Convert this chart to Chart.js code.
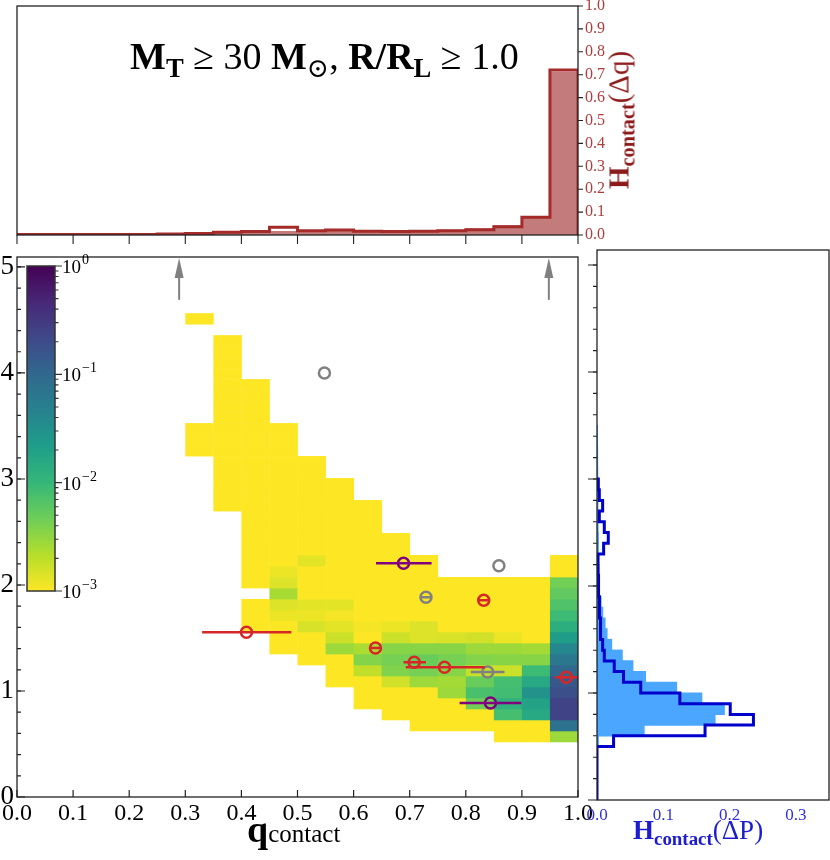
<!DOCTYPE html>
<html>
<head>
<meta charset="utf-8">
<script src="https://cdn.jsdelivr.net/npm/chart.js@4.4.1/dist/chart.umd.min.js"></script>
<style>
  body { margin: 0; background: #fff; width: 830px; height: 860px; position: relative; overflow: hidden;
         font-family: "Liberation Serif", "DejaVu Serif", serif; }
  canvas { position: absolute; left: 0; top: 0; }
  .lbl { position: absolute; white-space: nowrap; line-height: 1; }
  .lbl sub { font-size: 0.7em; vertical-align: -0.3em; line-height: 0; }
</style>
</head>
<body>
<canvas id="mainChart" width="830" height="860"></canvas>
<canvas id="cbarChart" width="830" height="860"></canvas>
<canvas id="topChart" width="830" height="860"></canvas>
<canvas id="rightChart" width="830" height="860"></canvas>

<div class="lbl" id="title" style="left:130px;top:37px;font-size:38px;">
  <b>M<sub>T</sub></b> &ge; 30 <b>M</b><sub>&#8857;</sub>, <b>R/R<sub>L</sub></b> &ge; 1.0
</div>
<div class="lbl" id="xlabel" style="left:247px;top:810px;font-size:38px;">
  <b>q</b><span style="font-size:25px;">contact</span>
</div>
<div class="lbl" id="rlabel" style="left:633px;top:817px;font-size:27px;color:#1c1cd0;">
  <b>H<sub>contact</sub></b>(&Delta;P)
</div>
<div class="lbl" id="tlabel" style="left:619px;top:120px;font-size:29px;color:#8b1a1a;transform:translate(-50%,-50%) rotate(-90deg);">
  <b>H<sub>contact</sub></b>(&Delta;q)
</div>

<script>
// ---------------- data ----------------
// tick values
const qTicks = [0, 0.1, 0.2, 0.3, 0.4, 0.5, 0.6, 0.7, 0.8, 0.9, 1.0];
const pTicks = [0, 1, 2, 3, 4, 5];
const hqTicks = [0, 0.1, 0.2, 0.3, 0.4, 0.5, 0.6, 0.7, 0.8, 0.9, 1.0];
const hpTicks = [0, 0.1, 0.2, 0.3];
const cbarTicks = [0.001, 0.01, 0.1, 1];

// top histogram, bins of 0.05 in q
const qBinWidth = 0.05;
const qHistFill = [0.001, 0.001, 0.001, 0.001, 0.001, 0.004, 0.007, 0.012, 0.015, 0.015,
                   0.019, 0.02, 0.016, 0.015, 0.016, 0.02, 0.026, 0.04, 0.077, 0.71];
const qHistLine = [0.002, 0.002, 0.002, 0.002, 0.002, 0.004, 0.007, 0.012, 0.015, 0.034,
                   0.019, 0.022, 0.016, 0.015, 0.016, 0.019, 0.023, 0.036, 0.077, 0.72];

// right histogram, bins of 0.1 in P starting at 0.5
const pBinStart = 0.5;
const pBinWidth = 0.1;
const pHistFill = [0.002, 0.071, 0.178, 0.192, 0.158, 0.12, 0.073, 0.054, 0.038, 0.022,
                   0.015, 0.012, 0.0085, 0.006, 0.0035, 0.003, 0.003, 0.0025, 0.002, 0.002,
                   0.0015, 0.0015, 0.0012, 0.001, 0.001, 0.001, 0.0008, 0.0008, 0.0006, 0.0005];
const pHistLine = [0.025, 0.163, 0.236, 0.201, 0.125, 0.066, 0.04, 0.026, 0.011, 0.0085,
                   0.006, 0.005, 0.004, 0.0035, 0.003, 0.002, 0.0015, 0.0015, 0.01, 0.017,
                   0.011, 0.0035, 0.0085, 0.0035, 0.002];

// 2D histogram: q bins of 0.05, P bins start 0.52 with width 0.1037
const heatDQ = 0.05;
const heatP0 = 0.52;
const heatDP = 0.1037;
const heatQBin = [6, 7, 8, 9, 10, 11, 12, 13, 14, 15, 16, 17, 18, 19];
const heatPFirst = [26, 21, 10, 8, 7, 5, 3, 2, 1, 1, 1, 0, 0, 0];
const heatValues = [
  [0.001, 0.001, 0.001, null, null, null, null, null, null, null, null, null, 0.001],
  [0.001, 0.001, 0.001, 0.001, 0.001, 0.001, 0.001, 0.001, 0.001, 0.001, 0.001, 0.001, 0.001, 0.001, 0.001, 0.001],
  [0.001, 0.001, 0.001, null, 0.001, 0.001, 0.001, 0.001, 0.001, 0.001, 0.001, 0.001, 0.001, 0.001, 0.001, 0.001,
   0.001, 0.001, 0.001, 0.001, 0.001, 0.001, 0.001],
  [0.001, 0.001, 0.001, 0.0012, 0.0014, 0.0025, 0.0014, 0.0012, 0.001, 0.001, 0.001, 0.001, 0.001, 0.001, 0.001,
   0.001, 0.001, 0.001, 0.001, 0.001, 0.001],
  [0.001, 0.001, 0.001, 0.0015, 0.0012, 0.0013, 0.001, 0.001, 0.001, 0.0013, 0.001, 0.001, 0.001, 0.001, 0.001,
   0.001, 0.001, 0.001, 0.001],
  [0.001, 0.001, 0.001, 0.0028, 0.0017, 0.0013, 0.0011, 0.0013, 0.001, 0.001, 0.001, 0.001, 0.001, 0.001, 0.001,
   0.001, 0.001, 0.001, 0.001],
  [0.001, 0.001, 0.001, 0.0019, 0.0037, 0.0024, 0.001, 0.0011, 0.001, 0.001, 0.001, 0.001, 0.001, 0.001, 0.001,
   0.001, 0.001, 0.001, 0.001],
  [0.001, 0.001, 0.001, 0.0016, 0.0038, 0.0043, 0.0035, 0.0017, 0.0012, 0.001, 0.001, 0.001, 0.001, 0.001, 0.001,
   0.001, 0.001],
  [0.001, 0.001, 0.001, 0.001, 0.0028, 0.0043, 0.005, 0.0035, 0.0014, 0.0014, 0.001, 0.001, 0.001, 0.001, 0.001, 0.001],
  [0.001, 0.001, 0.001, 0.0028, 0.0026, 0.0035, 0.0043, 0.0035, 0.0015, 0.001, 0.001, 0.001, 0.001, 0.001],
  [0.001, 0.001, 0.0045, 0.0075, 0.005, 0.0018, 0.0037, 0.0028, 0.0016, 0.001, 0.001, 0.001, 0.001, 0.001],
  [0.001, 0.001, 0.008, 0.012, 0.0085, 0.008, 0.0017, 0.0035, 0.0028, 0.0012, 0.001, 0.001, 0.001, 0.001, 0.001],
  [0.001, 0.001, 0.016, 0.019, 0.03, 0.016, 0.009, 0.0035, 0.0026, 0.001, 0.001, 0.001, 0.001, 0.001, 0.001],
  [0.0028, 0.075, 0.25, 0.25, 0.18, 0.15, 0.1, 0.065, 0.04, 0.022, 0.013, 0.009, 0.007, 0.0055, 0.0045, 0.001, 0.001]
];

// observed systems (q, P, q error range)
const redQ = [0.409, 0.639, 0.708, 0.762, 0.832, 0.979];
const redP = [1.554, 1.406, 1.271, 1.224, 1.856, 1.129];
const redQLo = [0.33, 0.629, 0.689, 0.693, 0.822, 0.959];
const redQHi = [0.489, 0.649, 0.729, 0.834, 0.842, 1.0];
const purpleQ = [0.689, 0.844];
const purpleP = [2.205, 0.887];
const purpleQLo = [0.64, 0.789];
const purpleQHi = [0.739, 0.899];
const grayQ = [0.548, 0.859, 0.729, 0.839];
const grayP = [4.0, 2.182, 1.884, 1.179];
const grayQLo = [null, null, 0.719, 0.809];
const grayQHi = [null, null, 0.739, 0.869];

// arrows marking q values
const arrowQ = [0.289, 0.948];
const arrowTailP = 4.69;

// ---------------- styles ----------------
const SERIF = '"Liberation Serif", "DejaVu Serif", serif';
const VIRIDIS = ['#440154', '#482878', '#3e4989', '#31688e', '#26828e',
                 '#1f9e89', '#35b779', '#6ece58', '#b5de2b', '#fde725'];
const RED = '#d62728', PURPLE = '#800080', GRAY = '#808080';
const TOP_FILL = '#c47b7b', TOP_LINE = '#a52a2a', TOP_TICK = '#b23c3c';
const RIGHT_FILL = '#4ba6ff', RIGHT_LINE = '#0000cd', RIGHT_TICK = '#3030e0';
const FRAME = '#222';

function hexRgb(h) {
  return [parseInt(h.slice(1, 3), 16), parseInt(h.slice(3, 5), 16), parseInt(h.slice(5, 7), 16)];
}
const VIR_RGB = VIRIDIS.map(hexRgb);

// reversed viridis on a log scale from 1e-3 (yellow) to 1 (purple)
function heatColor(v) {
  let t = (Math.log10(v) + 3) / 3;
  t = Math.min(1, Math.max(0, t));
  const s = (1 - t) * (VIR_RGB.length - 1);
  const i = Math.min(Math.floor(s), VIR_RGB.length - 2);
  const f = s - i;
  const a = VIR_RGB[i], b = VIR_RGB[i + 1];
  const c = a.map((x, n) => Math.round(x + (b[n] - x) * f));
  return `rgb(${c[0]},${c[1]},${c[2]})`;
}

function setTicks(values) {
  return s => { s.ticks = values.map(v => ({ value: v })); };
}
function fixBox(w, h) {
  return s => {
    if (w != null) s.width = w;
    if (h != null) s.height = h;
    s.paddingTop = s.paddingBottom = s.paddingLeft = s.paddingRight = 0;
  };
}

function tickMarks(ctx, scale, values, len, inward) {
  const a = scale.chart.chartArea;
  ctx.beginPath();
  values.forEach(v => {
    const p = scale.getPixelForValue(v);
    if (scale.isHorizontal()) {
      const y0 = scale.position === 'bottom' ? a.bottom : a.top;
      const d = (scale.position === 'bottom') === inward ? -len : len;
      ctx.moveTo(p, y0); ctx.lineTo(p, y0 + d);
    } else {
      const x0 = scale.position === 'left' ? a.left : a.right;
      const d = (scale.position === 'left') === inward ? len : -len;
      ctx.moveTo(x0, p); ctx.lineTo(x0 + d, p);
    }
  });
  ctx.stroke();
}

function minorSteps(from, to, step) {
  const out = [];
  for (let v = from; v <= to + 1e-9; v += step) out.push(+v.toFixed(4));
  return out;
}

const framePlugin = {
  id: 'frame',
  afterDraw(chart) {
    const { ctx, chartArea: a } = chart;
    ctx.save();
    ctx.strokeStyle = FRAME;
    ctx.lineWidth = 1.3;
    ctx.strokeRect(a.left, a.top, a.right - a.left, a.bottom - a.top);
    ctx.restore();
  }
};

// ---------------- main panel ----------------
const heatmapPlugin = {
  id: 'heatmap',
  beforeDatasetsDraw(chart) {
    const { ctx, chartArea: a, scales: { x, y } } = chart;
    ctx.save();
    ctx.beginPath();
    ctx.rect(a.left, a.top, a.right - a.left, a.bottom - a.top);
    ctx.clip();
    heatValues.forEach((col, c) => {
      const q0 = heatQBin[c] * heatDQ;
      const xl = x.getPixelForValue(q0);
      const xr = x.getPixelForValue(q0 + heatDQ);
      col.forEach((v, n) => {
        if (v == null) return;
        const k = heatPFirst[c] + n;
        const yb = y.getPixelForValue(heatP0 + k * heatDP);
        const yt = y.getPixelForValue(heatP0 + (k + 1) * heatDP);
        ctx.fillStyle = heatColor(v);
        ctx.fillRect(xl, yt, xr - xl + 0.4, yb - yt + 0.4);
      });
    });
    ctx.restore();
  }
};

const mainDecor = {
  id: 'mainDecor',
  afterDraw(chart) {
    const { ctx, scales: { x, y } } = chart;
    ctx.save();
    ctx.strokeStyle = FRAME;
    ctx.lineWidth = 1.2;
    tickMarks(ctx, x, qTicks, 7, true);
    tickMarks(ctx, y, pTicks, 8, true);
    tickMarks(ctx, y, minorSteps(0.2, 5.0, 0.2), 4, true);
    // arrows
    ctx.strokeStyle = GRAY;
    ctx.fillStyle = GRAY;
    ctx.lineWidth = 2;
    arrowQ.forEach(q => {
      const px = x.getPixelForValue(q);
      const yTail = y.getPixelForValue(arrowTailP);
      const yTip = y.getPixelForValue(y.max);
      ctx.beginPath();
      ctx.moveTo(px, yTail);
      ctx.lineTo(px, yTip + 18);
      ctx.stroke();
      ctx.beginPath();
      ctx.moveTo(px, yTip + 1);
      ctx.lineTo(px - 4.5, yTip + 21);
      ctx.lineTo(px + 4.5, yTip + 21);
      ctx.closePath();
      ctx.fill();
    });
    ctx.restore();
  }
};

const groups = [
  { q: redQ, p: redP, lo: redQLo, hi: redQHi, color: RED },
  { q: purpleQ, p: purpleP, lo: purpleQLo, hi: purpleQHi, color: PURPLE },
  { q: grayQ, p: grayP, lo: grayQLo, hi: grayQHi, color: GRAY }
];
const errSets = [];
const dotSets = [];
groups.forEach(g => {
  g.q.forEach((q, i) => {
    if (g.lo[i] == null) return;
    errSets.push({
      type: 'line',
      data: [{ x: g.lo[i], y: g.p[i] }, { x: g.hi[i], y: g.p[i] }],
      borderColor: g.color, borderWidth: 2.5, pointRadius: 0, showLine: true, fill: false
    });
  });
  dotSets.push({
    data: g.q.map((q, i) => ({ x: q, y: g.p[i] })),
    pointStyle: 'circle', pointRadius: 5.5, pointHoverRadius: 5.5, borderWidth: 2.5,
    borderColor: g.color, backgroundColor: 'rgba(0,0,0,0)'
  });
});

new Chart(document.getElementById('mainChart'), {
  type: 'scatter',
  data: { datasets: [...errSets, ...dotSets] },
  options: {
    responsive: false,
    animation: false,
    layout: { padding: { left: 0, right: 252, top: 257, bottom: 0 } },
    plugins: { legend: { display: false }, tooltip: { enabled: false } },
    scales: {
      x: {
        type: 'linear', min: 0, max: 1,
        afterBuildTicks: setTicks(qTicks), afterFit: fixBox(null, 63),
        grid: { display: false, drawTicks: false }, border: { display: false },
        ticks: { font: { family: SERIF, size: 24 }, color: '#000', padding: 2,
                 maxRotation: 0, autoSkip: false, callback: v => v.toFixed(1) }
      },
      y: {
        type: 'linear', min: 0, max: 5.094,
        afterBuildTicks: setTicks(pTicks), afterFit: fixBox(17, null),
        grid: { display: false, drawTicks: false }, border: { display: false },
        ticks: { font: { family: SERIF, size: 27 }, color: '#000', padding: 3, autoSkip: false }
      }
    }
  },
  plugins: [heatmapPlugin, mainDecor, framePlugin]
});

// ---------------- colorbar ----------------
const SUP_MINUS = '\u2212';
const cbarPlugin = {
  id: 'cbar',
  beforeDatasetsDraw(chart) {
    const { ctx, chartArea: a, scales: { y } } = chart;
    ctx.save();
    const g = ctx.createLinearGradient(0, a.top, 0, a.bottom);
    VIRIDIS.forEach((c, i) => g.addColorStop(i / (VIRIDIS.length - 1), c));
    ctx.fillStyle = g;
    ctx.fillRect(a.left, a.top, a.right - a.left, a.bottom - a.top);
    ctx.strokeStyle = '#333';
    ctx.lineWidth = 1.5;
    ctx.strokeRect(a.left, a.top, a.right - a.left, a.bottom - a.top);
    ctx.lineWidth = 1.1;
    tickMarks(ctx, y, cbarTicks, 7, false);
    const minor = [];
    [0.001, 0.01, 0.1].forEach(d => { for (let m = 2; m <= 9; m++) minor.push(d * m); });
    tickMarks(ctx, y, minor, 3.5, false);
    // decade labels: "10" with a raised exponent
    ctx.fillStyle = '#000';
    ctx.textBaseline = 'alphabetic';
    ctx.textAlign = 'left';
    cbarTicks.forEach(v => {
      const py = y.getPixelForValue(v);
      const e = Math.round(Math.log10(v));
      const x0 = a.right + 7;
      ctx.font = `19px ${SERIF}`;
      ctx.fillText('10', x0, py + 7);
      const w = ctx.measureText('10').width;
      ctx.font = `14px ${SERIF}`;
      ctx.fillText(e < 0 ? SUP_MINUS + (-e) : String(e), x0 + w + 1, py - 2);
    });
    ctx.restore();
  }
};

new Chart(document.getElementById('cbarChart'), {
  type: 'scatter',
  data: { datasets: [] },
  options: {
    responsive: false,
    animation: false,
    layout: { padding: { left: 27, right: 735, top: 266, bottom: 269 } },
    plugins: { legend: { display: false }, tooltip: { enabled: false } },
    scales: {
      x: { display: false, min: 0, max: 1 },
      y: {
        type: 'logarithmic', position: 'right', min: 0.001, max: 1,
        afterBuildTicks: setTicks(cbarTicks), afterFit: fixBox(40, null),
        grid: { display: false, drawTicks: false }, border: { display: false },
        ticks: { display: false }
      }
    }
  },
  plugins: [cbarPlugin]
});

// ---------------- top histogram ----------------
const topBars = qHistFill.map((v, i) => ({ x: (i + 0.5) * qBinWidth, y: v }));
const topStep = [{ x: 0, y: 0 }];
qHistLine.forEach((v, i) => {
  topStep.push({ x: i * qBinWidth, y: v }, { x: (i + 1) * qBinWidth, y: v });
});
topStep.push({ x: qHistLine.length * qBinWidth, y: 0 });

const topDecor = {
  id: 'topDecor',
  afterDraw(chart) {
    const { ctx, scales: { x, y } } = chart;
    ctx.save();
    ctx.strokeStyle = FRAME;
    ctx.lineWidth = 1.1;
    tickMarks(ctx, x, qTicks, 9, false);
    tickMarks(ctx, y, hqTicks, 5, false);
    ctx.restore();
  }
};

new Chart(document.getElementById('topChart'), {
  type: 'bar',
  data: {
    datasets: [
      { type: 'line', data: topStep, borderColor: TOP_LINE, borderWidth: 3, pointRadius: 0,
        fill: false, tension: 0, borderJoinStyle: 'miter' },
      { data: topBars, backgroundColor: TOP_FILL, borderWidth: 0, inflateAmount: 0.6,
        barPercentage: 1, categoryPercentage: 1, grouped: false }
    ]
  },
  options: {
    responsive: false,
    animation: false,
    layout: { padding: { left: 17, right: 0, top: 6, bottom: 0 } },
    plugins: { legend: { display: false }, tooltip: { enabled: false } },
    scales: {
      x: {
        type: 'linear', min: 0, max: 1, offset: false,
        afterBuildTicks: setTicks(qTicks), afterFit: fixBox(null, 625),
        grid: { display: false, drawTicks: false }, border: { display: false },
        ticks: { display: false }
      },
      y: {
        type: 'linear', position: 'right', min: 0, max: 1,
        afterBuildTicks: setTicks(hqTicks), afterFit: fixBox(252, null),
        grid: { display: false, drawTicks: false }, border: { display: false },
        ticks: { font: { family: SERIF, size: 16 }, color: TOP_TICK, padding: 7, autoSkip: false,
                 callback: v => v.toFixed(1) }
      }
    }
  },
  plugins: [topDecor, framePlugin]
});

// ---------------- right histogram ----------------
const rightBars = pHistFill.map((v, i) => ({ x: v, y: pBinStart + (i + 0.5) * pBinWidth }));
const rightStep = [{ x: 0, y: 0 }, { x: 0, y: pBinStart }];
pHistLine.forEach((v, i) => {
  const p0 = pBinStart + i * pBinWidth;
  rightStep.push({ x: v, y: p0 }, { x: v, y: p0 + pBinWidth });
});
rightStep.push({ x: 0, y: pBinStart + pHistLine.length * pBinWidth });

const rightDecor = {
  id: 'rightDecor',
  afterDraw(chart) {
    const { ctx, scales: { y } } = chart;
    ctx.save();
    ctx.strokeStyle = FRAME;
    ctx.lineWidth = 1.1;
    tickMarks(ctx, y, pTicks, 9, false);
    tickMarks(ctx, y, minorSteps(0.2, 5.0, 0.2), 4, false);
    ctx.restore();
  }
};

new Chart(document.getElementById('rightChart'), {
  type: 'bar',
  data: {
    datasets: [
      { type: 'line', data: rightStep, borderColor: RIGHT_LINE, borderWidth: 3, pointRadius: 0,
        fill: false, tension: 0, borderJoinStyle: 'miter' },
      { data: rightBars, backgroundColor: RIGHT_FILL, borderWidth: 0, inflateAmount: 0.6,
        barPercentage: 1, categoryPercentage: 1, grouped: false }
    ]
  },
  options: {
    indexAxis: 'y',
    responsive: false,
    animation: false,
    layout: { padding: { left: 597, right: 1, top: 250, bottom: 0 } },
    plugins: { legend: { display: false }, tooltip: { enabled: false } },
    scales: {
      x: {
        type: 'linear', min: 0, max: 0.35,
        afterBuildTicks: setTicks(hpTicks), afterFit: fixBox(null, 60),
        grid: { display: false, drawTicks: false }, border: { display: false },
        ticks: { font: { family: SERIF, size: 17 }, color: RIGHT_TICK, padding: 5,
                 maxRotation: 0, callback: v => v.toFixed(1) }
      },
      y: {
        type: 'linear', min: 0, max: 5.14, offset: false, display: false,
        afterBuildTicks: setTicks(pTicks)
      }
    }
  },
  plugins: [rightDecor, framePlugin]
});
</script>
</body>
</html>
